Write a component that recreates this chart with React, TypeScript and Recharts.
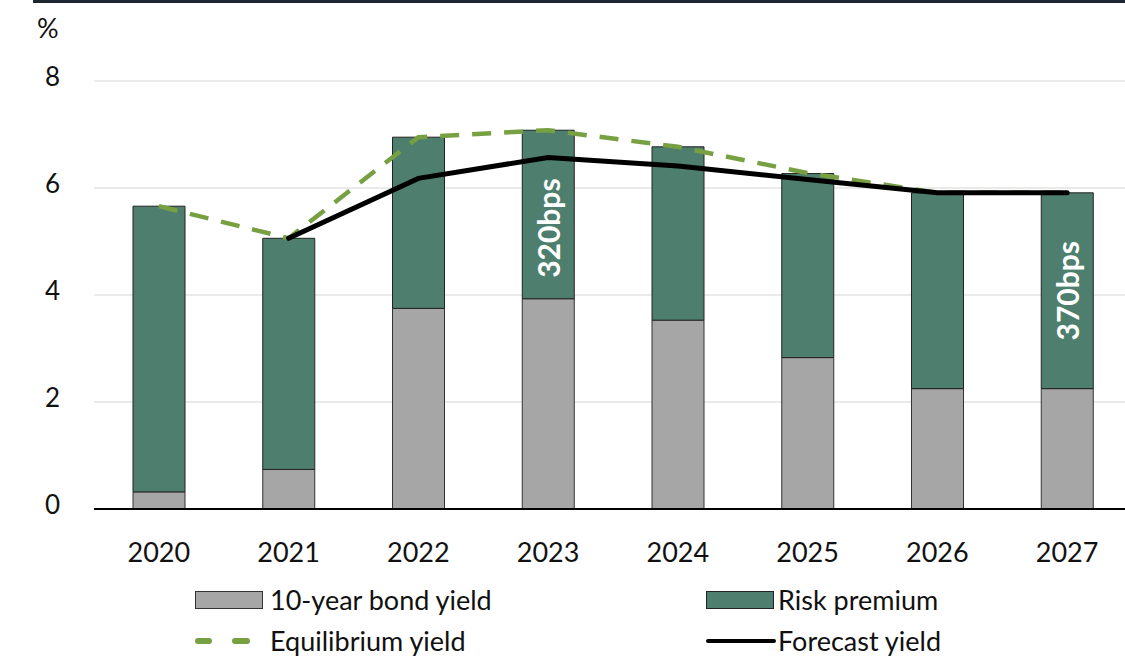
import React from "react";
import { Bar, CartesianGrid, ComposedChart, LabelList, Line, XAxis, YAxis } from "recharts";

const FONT = "Lato, 'Open Sans', sans-serif";
const GREY = "#a6a6a6";
const TEAL = "#4e7f6e";
const OLIVE = "#77a043";
const INK = "#111111";

const years = ["2020", "2021", "2022", "2023", "2024", "2025", "2026", "2027"];
const bondYield = [0.32, 0.74, 3.75, 3.93, 3.53, 2.83, 2.25, 2.25];
const riskPremium = [5.34, 4.32, 3.2, 3.15, 3.24, 3.44, 3.66, 3.66];
const equilibrium = [5.66, 5.06, 6.95, 7.08, 6.77, 6.28, 5.91, 5.91];
const forecast: (number | null)[] = [null, 5.06, 6.18, 6.57, 6.41, 6.16, 5.91, 5.91];
const bpsLabels = ["", "", "", "320bps", "", "", "", "370bps"];
const yTicks = [0, 2, 4, 6, 8];

const data = years.map((year, i) => ({
  year,
  bond: bondYield[i],
  risk: riskPremium[i],
  eq: equilibrium[i],
  fc: forecast[i],
}));

const YTick = (p: any) => (
  <text x={p.x} y={p.y - 5} textAnchor="end" dominantBaseline="central" fontSize={26} fill={INK} fontFamily={FONT}>
    {p.payload.value}
  </text>
);

const XTick = (p: any) => (
  <text x={p.x} y={p.y + 34} textAnchor="middle" dominantBaseline="central" fontSize={27} fill={INK} fontFamily={FONT}>
    {p.payload.value}
  </text>
);

// label sits in the part of the risk-premium segment below the forecast line
const BpsLabel = (p: any) => {
  const i = p.index;
  const text = bpsLabels[i];
  if (!text) return null;
  const base = p.y + p.height;
  const perUnit = p.height / riskPremium[i];
  const fcPx = base - ((forecast[i] ?? equilibrium[i]) - bondYield[i]) * perUnit;
  const cx = p.x + p.width / 2;
  const cy = (base + fcPx) / 2;
  return (
    <text
      x={cx}
      y={cy}
      transform={`rotate(-90 ${cx} ${cy})`}
      textAnchor="middle"
      dominantBaseline="central"
      fontSize={30}
      fontWeight={700}
      fill="#ffffff"
      fontFamily={FONT}
    >
      {text}
    </text>
  );
};

const legendText: React.CSSProperties = { position: "absolute", fontSize: 27, color: INK, lineHeight: "30px" };

export default function App() {
  return (
    <div style={{ position: "absolute", left: 0, top: 0, width: 1125, height: 656, overflow: "hidden", background: "#fff", fontFamily: FONT }}>
      <div style={{ position: "absolute", left: 33, top: 0, width: 1092, height: 3, background: "#1b2631" }} />
      <div style={{ ...legendText, left: 37, top: 13 }}>%</div>
      <ComposedChart width={1132} height={656} data={data} margin={{ top: 81, right: 0, bottom: 0, left: 0 }} barSize={52}>
        <CartesianGrid vertical={false} stroke="#e3e3e3" strokeWidth={1.5} />
        <XAxis
          dataKey="year"
          height={147}
          tickLine={false}
          axisLine={{ stroke: "#000", strokeWidth: 2 }}
          tick={<XTick />}
          interval={0}
        />
        <YAxis
          width={94}
          domain={[0, 8]}
          ticks={yTicks}
          axisLine={false}
          tickLine={false}
          tickSize={0}
          tickMargin={34}
          tick={<YTick />}
        />
        <Bar dataKey="bond" stackId="a" fill={GREY} stroke="#333" strokeWidth={1} isAnimationActive={false} />
        <Bar dataKey="risk" stackId="a" fill={TEAL} stroke="#222" strokeWidth={1} isAnimationActive={false}>
          <LabelList dataKey="risk" content={<BpsLabel />} />
        </Bar>
        <Line dataKey="eq" stroke={OLIVE} strokeWidth={4.5} strokeDasharray="19 13" dot={false} activeDot={false} isAnimationActive={false} />
        <Line dataKey="fc" stroke="#000" strokeWidth={5} dot={false} activeDot={false} isAnimationActive={false} strokeLinecap="round" />
      </ComposedChart>
      <div style={{ position: "absolute", left: 195, top: 591, width: 66, height: 16, background: GREY, border: "1px solid #333" }} />
      <div style={{ ...legendText, left: 270, top: 585 }}>10-year bond yield</div>
      <div style={{ position: "absolute", left: 706, top: 591, width: 66, height: 16, background: TEAL, border: "1px solid #222" }} />
      <div style={{ ...legendText, left: 778, top: 585 }}>Risk premium</div>
      <div style={{ position: "absolute", left: 195, top: 638, width: 17, height: 6, borderRadius: 3, background: OLIVE }} />
      <div style={{ position: "absolute", left: 232, top: 638, width: 18, height: 6, borderRadius: 3, background: OLIVE }} />
      <div style={{ ...legendText, left: 270, top: 626 }}>Equilibrium yield</div>
      <div style={{ position: "absolute", left: 706, top: 639, width: 70, height: 4, borderRadius: 2, background: "#000" }} />
      <div style={{ ...legendText, left: 778, top: 626 }}>Forecast yield</div>
    </div>
  );
}
